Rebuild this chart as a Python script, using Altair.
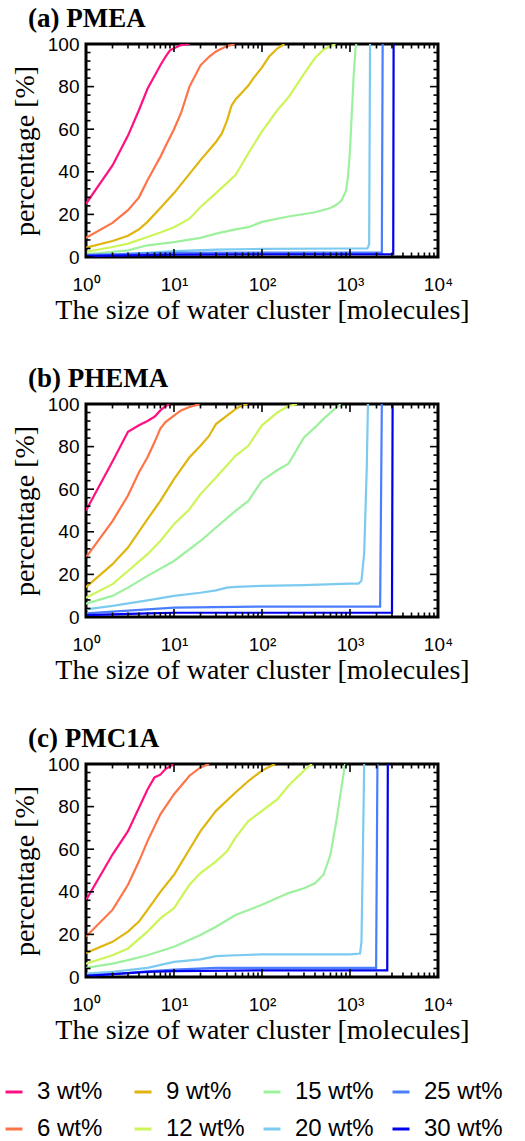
import altair as alt
import pandas as pd

LABELS = ["3 wt%", "6 wt%", "9 wt%", "12 wt%", "15 wt%", "20 wt%", "25 wt%", "30 wt%"]
LEGEND_ORDER = ["3 wt%", "9 wt%", "15 wt%", "25 wt%", "6 wt%", "12 wt%", "20 wt%", "30 wt%"]
LEGEND_COLORS = ["#ff1083", "#e0b50e", "#9df09d", "#4a7dff", "#ff7447", "#ccf55a", "#7ccaf0", "#0000f0"]

# (a) PMEA : cluster size -> cumulative percentage
PMEA = {
    "3 wt%": ([1, 2, 3, 4, 5, 6, 7, 8, 9, 10, 12, 15],
              [25, 43, 57, 69, 79, 85, 90, 94, 97, 98, 99.5, 100]),
    "6 wt%": ([1, 2, 3, 4, 5, 6, 7, 8, 10, 12, 15, 20, 25, 30, 40, 50],
              [9, 16, 22, 28, 36, 42, 47, 52, 60, 67.5, 80, 90, 94, 96.5, 99, 100]),
    "9 wt%": ([1, 2, 3, 4, 5, 7, 10, 15, 20, 30, 35, 40, 45, 50, 60, 70, 80, 100, 120, 150, 180],
              [4.4, 7.5, 10, 13, 16.5, 23, 30, 39, 45.5, 54, 58, 64, 71, 74, 77.5, 80.5, 84, 89, 94, 98, 100]),
    "12 wt%": ([1, 2, 3, 5, 7, 10, 15, 20, 30, 50, 70, 100, 150, 200, 300, 400, 500, 600, 700],
               [2.4, 4.7, 6.3, 9.4, 11.5, 14, 18, 23.5, 30, 38.5, 48.7, 59, 69, 75, 86, 93.4, 97.3, 99, 100]),
    "15 wt%": ([1, 2, 3, 5, 10, 20, 30, 50, 70, 100, 200, 400, 600, 700, 800, 900, 950, 1000, 1050, 1100, 1150, 1180],
               [1.3, 2.4, 3.1, 5.5, 7, 9, 11, 13, 14, 16.5, 19, 21, 23, 24.5, 26.5, 31, 38, 50, 68, 85, 97, 100]),
    "20 wt%": ([1, 2, 5, 10, 30, 100, 1000, 1580, 1650, 1690],
               [0.8, 1.1, 2, 2.8, 3.5, 3.8, 4.0, 4.0, 6, 100]),
    "25 wt%": ([1, 2, 5, 10, 100, 1000, 2300, 2350],
               [1.0, 1.3, 1.7, 2.0, 2.1, 2.1, 2.1, 100]),
    "30 wt%": ([1, 5, 10, 100, 1000, 3100, 3130],
               [0.5, 0.9, 1.1, 1.3, 1.3, 1.3, 100]),
}

# (b) PHEMA
PHEMA = {
    "3 wt%": ([1, 2, 3, 4, 5, 6, 7, 8, 9],
              [50, 73, 87, 90, 92, 94, 97, 99, 100]),
    "6 wt%": ([1, 2, 3, 4, 5, 6, 7, 8, 10, 12, 15, 20],
              [28, 45, 57, 68, 75, 82, 88.5, 91.5, 94.5, 97, 98.6, 100]),
    "9 wt%": ([1, 2, 3, 5, 7, 10, 15, 20, 25, 30, 40, 50, 60, 70],
              [14, 24.8, 32.6, 46, 54.5, 64.7, 75, 80.4, 85, 90.6, 94.5, 97.6, 99.5, 100]),
    "12 wt%": ([1, 2, 3, 5, 7, 10, 15, 20, 30, 50, 70, 100, 150, 200, 250],
               [9, 15.4, 21.6, 29.5, 35.7, 43.6, 50.6, 57.7, 65.5, 75.7, 80.4, 90, 96, 99, 100]),
    "15 wt%": ([1, 2, 3, 5, 10, 20, 30, 50, 70, 100, 150, 200, 300, 400, 500, 700, 800],
               [6.3, 9.9, 13.8, 19.3, 26.3, 35.7, 42, 49.8, 54.5, 64, 69, 72, 84.3, 89, 93, 98.4, 100]),
    "20 wt%": ([1, 2, 5, 10, 20, 30, 40, 50, 100, 300, 1000, 1250, 1350, 1450, 1550, 1600],
               [3.6, 5.2, 7.8, 9.9, 11.4, 12.5, 13.8, 14.1, 14.6, 15, 15.7, 15.7, 17, 30, 70, 100]),
    "25 wt%": ([1, 2, 5, 10, 100, 1000, 2200, 2300],
               [1.7, 2.5, 3.6, 4.4, 4.9, 4.9, 4.9, 100]),
    "30 wt%": ([1, 5, 10, 100, 1000, 3000, 3050],
               [0.9, 1.7, 2.0, 2.0, 2.0, 2.0, 100]),
}

# (c) PMC1A
PMC1A = {
    "3 wt%": ([1, 2, 3, 4, 5, 6, 7, 8, 10],
              [36, 57.5, 68.5, 79.5, 88, 93.7, 95, 97.6, 100]),
    "6 wt%": ([1, 2, 3, 4, 5, 7, 10, 15, 20, 25],
              [19, 31.5, 43.3, 54.3, 63.8, 76.4, 85.8, 94.5, 98.4, 100]),
    "9 wt%": ([1, 2, 3, 4, 5, 7, 10, 15, 20, 30, 50, 70, 100, 140],
              [11.3, 16.5, 21.3, 26, 31.5, 40, 48, 60, 68.5, 78, 86.6, 92, 96.9, 100]),
    "12 wt%": ([1, 2, 3, 5, 7, 10, 15, 20, 30, 40, 50, 70, 100, 150, 200, 300, 370],
               [6.3, 10.2, 13.4, 21.3, 27.5, 32.3, 43.3, 48.8, 54.3, 59, 65.4, 73.2, 78, 83.5, 89.8, 96.9, 100]),
    "15 wt%": ([1, 2, 3, 5, 10, 20, 30, 50, 100, 200, 300, 400, 500, 600, 700, 800, 880],
               [4.3, 6.3, 7.9, 10.2, 14.2, 19.7, 23.6, 29.1, 33.9, 39.4, 41.7, 44, 48, 57.5, 73.2, 89, 100]),
    "20 wt%": ([1, 2, 5, 10, 20, 30, 50, 100, 1000, 1300, 1350, 1400, 1450],
               [1.6, 2.4, 4.3, 7.1, 8.3, 9.8, 10.2, 10.6, 10.6, 11, 16.5, 57.5, 100]),
    "25 wt%": ([1, 2, 5, 10, 30, 100, 1980, 2050],
               [0.8, 1.3, 2.7, 3.5, 4.3, 4.3, 4.3, 100]),
    "30 wt%": ([1, 5, 10, 100, 2650, 2690],
               [0.5, 2.4, 2.8, 3.1, 3.1, 100]),
}

X_TICK_LABELS = [1, 10, 100, 1000, 10000]
X_MINOR = [m * d for d in [1, 10, 100, 1000] for m in range(2, 10)]
Y_TICK_LABELS = [0, 20, 40, 60, 80, 100]
Y_MINOR = [v for v in range(4, 100, 4) if v % 20 != 0]

X_TITLE = "The size of water cluster [molecules]"
Y_TITLE = "percentage [%]"

W, H = 352, 213

X_LABEL_EXPR = ("datum.value == 1 ? '10\u2070' : datum.value == 10 ? '10\u00b9' : "
                "datum.value == 100 ? '10\u00b2' : datum.value == 1000 ? '10\u00b3' : '10\u2074'")

XSCALE = alt.Scale(type="log", domain=[1, 10000])
YSCALE = alt.Scale(domain=[0, 100])


def x_axis():
    return alt.Axis(values=X_TICK_LABELS, labelExpr=X_LABEL_EXPR, title=X_TITLE,
                    labelPadding=18, titlePadding=2, labelFlush=False)


def y_axis():
    return alt.Axis(values=Y_TICK_LABELS, title=Y_TITLE, labelPadding=7,
                    titlePadding=8, labelFlush=False)


def panel(data, title, show_legend):
    rows = []
    for lab in LABELS:
        xs, ys = data[lab]
        for i, (x, y) in enumerate(zip(xs, ys)):
            rows.append({"label": lab, "size": x, "pct": y, "i": i})
    df = pd.DataFrame(rows)

    if show_legend:
        legend = alt.Legend(
            orient="none", legendX=-84, legendY=1036, columns=4, direction="horizontal",
            gridAlign="all", columnPadding=12, rowPadding=13,
            symbolType="stroke", symbolSize=289, symbolStrokeWidth=3,
            labelFont="Liberation Sans", labelFontSize=24, labelColor="black",
            labelOffset=11, labelLimit=300, title=None, padding=0,
        )
    else:
        legend = None

    lines = alt.Chart(df).mark_line(strokeWidth=2.2, clip=True).encode(
        x=alt.X("size:Q", scale=XSCALE, axis=x_axis()),
        y=alt.Y("pct:Q", scale=YSCALE, axis=y_axis()),
        color=alt.Color("label:N", scale=alt.Scale(domain=LEGEND_ORDER, range=LEGEND_COLORS),
                        legend=legend),
        order="i:Q",
    )

    layers = [lines]

    def xticks(vals, ln):
        d = pd.DataFrame({"tv": vals})
        base = alt.Chart(d).mark_rule(color="black", strokeWidth=1.6)
        bottom = base.encode(x=alt.X("tv:Q", scale=XSCALE, axis=x_axis()),
                             y=alt.value(H), y2=alt.value(H - ln))
        top = base.encode(x=alt.X("tv:Q", scale=XSCALE, axis=x_axis()),
                          y=alt.value(0), y2=alt.value(ln))
        return [bottom, top]

    def yticks(vals, ln):
        d = pd.DataFrame({"tv": vals})
        base = alt.Chart(d).mark_rule(color="black", strokeWidth=1.6)
        left = base.encode(y=alt.Y("tv:Q", scale=YSCALE, axis=y_axis()),
                           x=alt.value(0), x2=alt.value(ln))
        right = base.encode(y=alt.Y("tv:Q", scale=YSCALE, axis=y_axis()),
                            x=alt.value(W), x2=alt.value(W - ln))
        return [left, right]

    layers += xticks(X_TICK_LABELS, 8) + xticks(X_MINOR, 4.5)
    layers += yticks(Y_TICK_LABELS, 8) + yticks(Y_MINOR, 4.5)

    return alt.layer(*layers).properties(
        width=W, height=H,
        title=alt.TitleParams(
            text=title, anchor="start", frame="group", dx=-58, offset=-19,
            baseline="alphabetic", font="Liberation Serif", fontSize=27,
            fontWeight="bold", color="black"),
    )


chart = alt.vconcat(
    panel(PMEA, "(a) PMEA", True),
    panel(PHEMA, "(b) PHEMA", False),
    panel(PMC1A, "(c) PMC1A", False),
    spacing=37,
).properties(
    padding={"left": 2, "top": 3, "right": 0, "bottom": 0},
).configure_view(
    stroke="black", strokeWidth=3,
).configure_axis(
    grid=False, domain=False, ticks=False, tickSize=0,
    labelFont="Liberation Sans", labelFontSize=19, labelColor="black",
    titleFont="Liberation Serif", titleFontSize=28, titleFontWeight="normal",
    titleColor="black", labelOverlap=False, labelBound=False,
)

chart.save("out.html", embed_options={"renderer": "svg", "actions": False})
